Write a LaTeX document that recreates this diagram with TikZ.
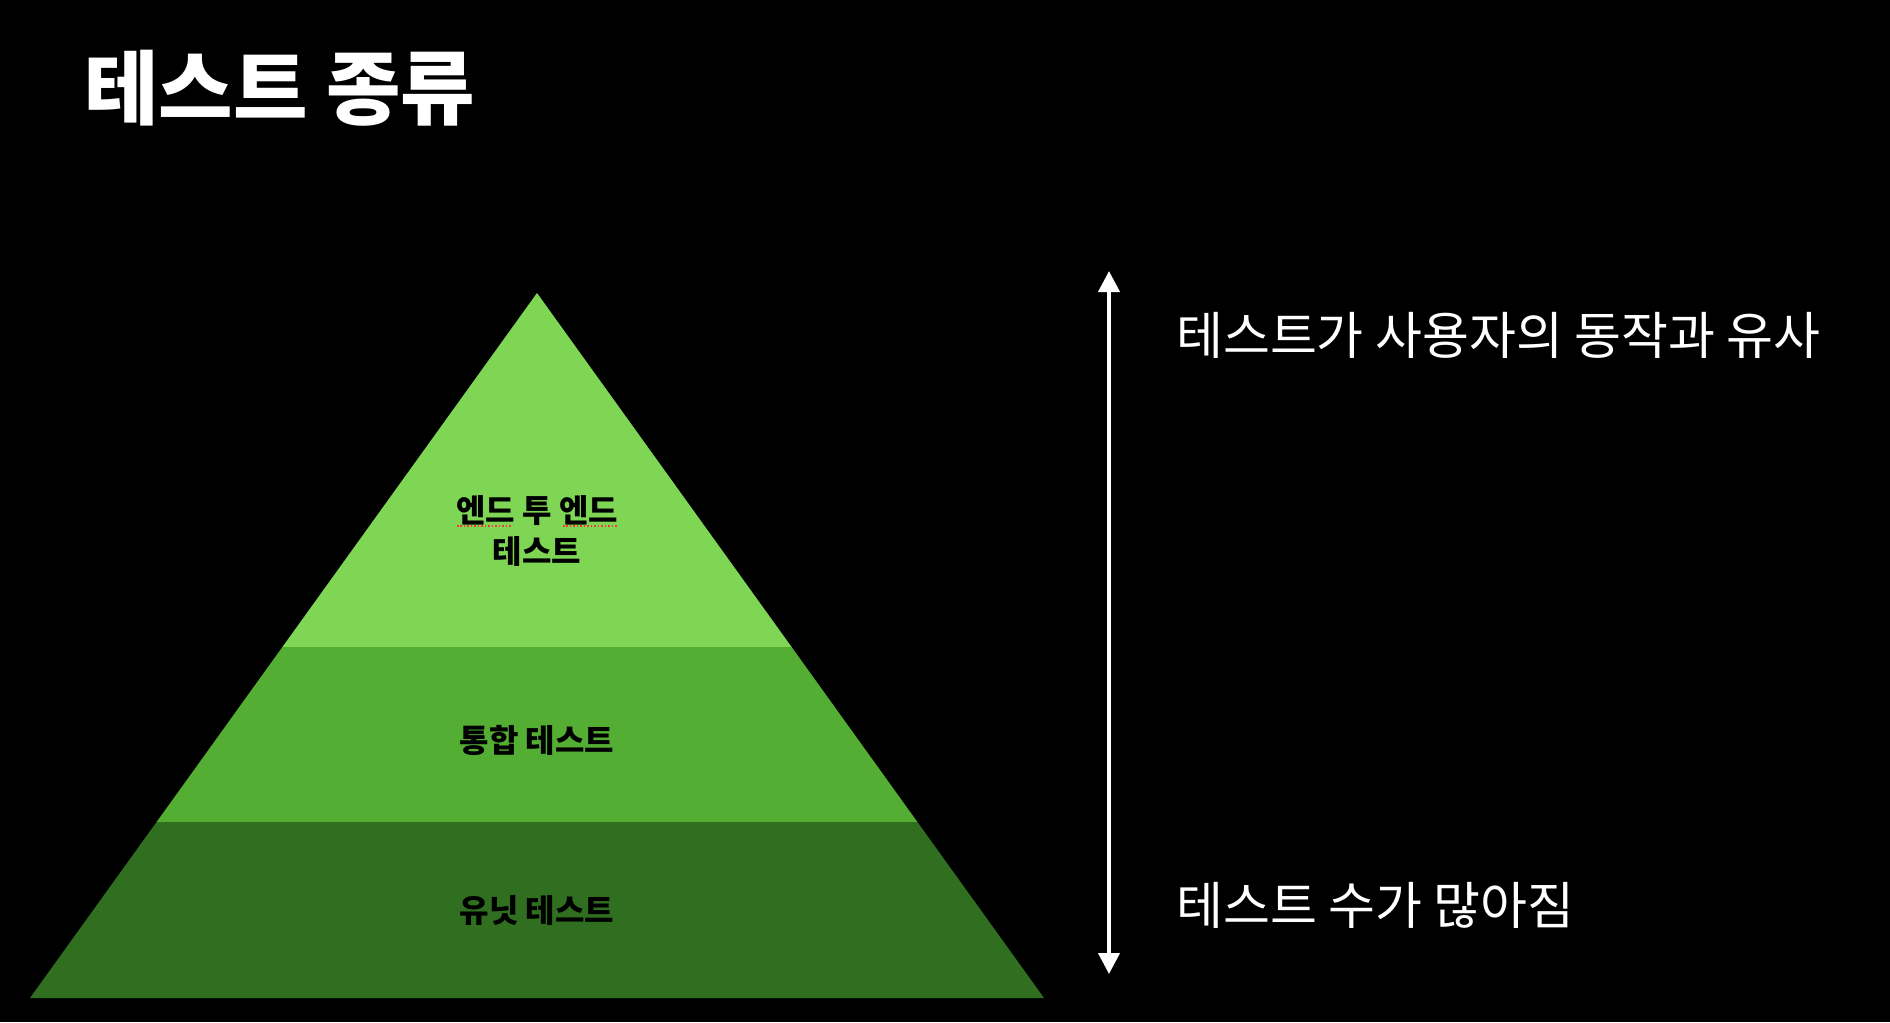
\documentclass[tikz,border=0pt]{standalone}
\usepackage{fontspec}
\setmainfont{Noto Sans CJK KR}
\newfontfamily\kr{Noto Sans CJK KR}
\usetikzlibrary{arrows.meta}
\definecolor{gtop}{HTML}{7FD655}
\definecolor{gmid}{HTML}{53AE33}
\definecolor{gbot}{HTML}{2F6F1F}
\tikzset{
  lbl/.style={inner sep=0pt, text=black, font=\kr\bfseries\fontsize{32bp}{41bp}\selectfont, align=center},
  side/.style={inner sep=0pt, anchor=west, text=white, font=\kr\fontsize{51bp}{58bp}\selectfont},
  spell/.style={draw=red!80, line width=1.5bp, dotted}
}
\begin{document}
\begin{tikzpicture}[x=1bp,y=-1bp]
\fill[black] (0,0) rectangle (1890,1022);
\useasboundingbox (0,0) rectangle (1890,1022);
% title
\node[inner sep=0pt, anchor=west, text=white, font=\kr\bfseries\fontsize{81bp}{90bp}\selectfont] (title) at (84,88) {테스트 종류};
% pyramid bands
\fill[gtop] (537,293) -- (791.6,647) -- (282.4,647) -- cycle;
\fill[gmid] (282.4,647) -- (791.6,647) -- (917.4,822) -- (156.6,822) -- cycle;
\fill[gbot] (156.6,822) -- (917.4,822) -- (1044,998) -- (30,998) -- cycle;
% labels
\node[lbl] (e2e) at (537,531) {엔드 투 엔드\\테스트};
\node[lbl] (integ) at (537,740) {통합 테스트};
\node[lbl] (unit) at (537,910) {유닛 테스트};
% spell-check underlines
\draw[spell] (457,526) -- (512,526);
\draw[spell] (563,526) -- (618,526);
% arrow
\coordinate (atop) at (1109,271);
\coordinate (abot) at (1109,974);
\draw[white, line width=4bp, {Triangle[length=21bp,width=21bp]}-{Triangle[length=21bp,width=21bp]}] (atop) -- (abot);
% side texts
\node[side] (similar) at (1176,335) {테스트가 사용자의 동작과 유사};
\node[side] (many) at (1176,905) {테스트 수가 많아짐};
\end{tikzpicture}
\end{document}
